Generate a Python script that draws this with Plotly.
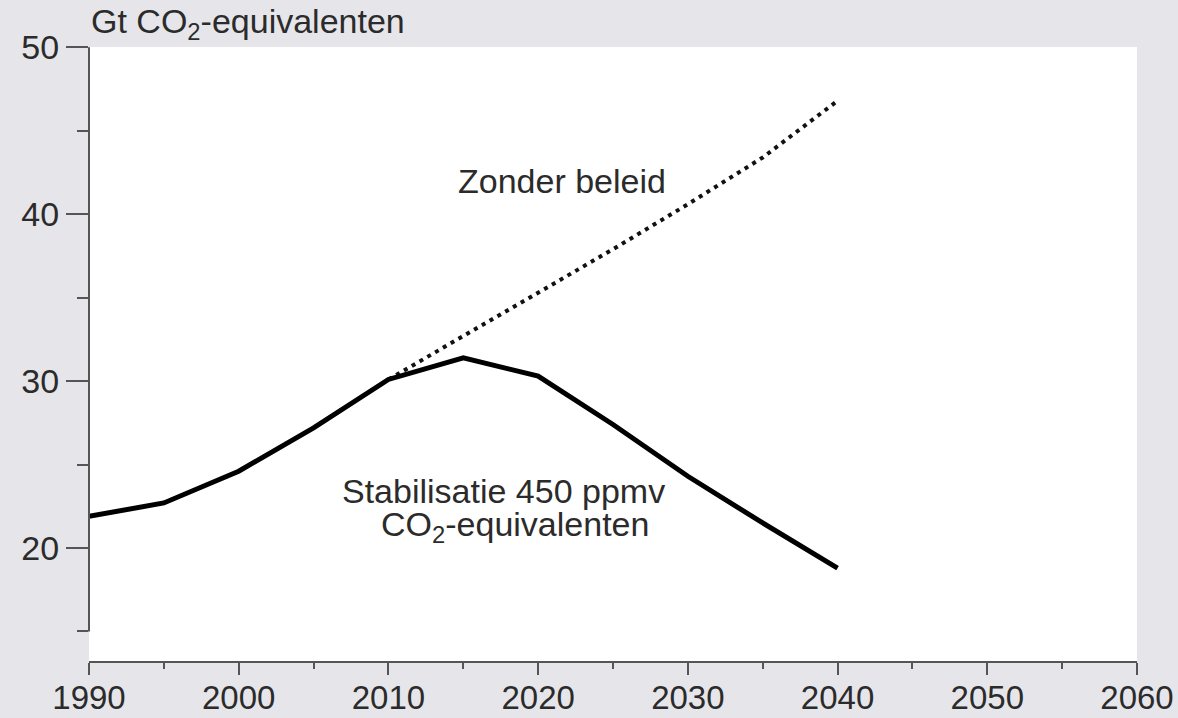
"""
Emissions chart: no-policy baseline vs. 450 ppmv stabilisation.
"""
import plotly.graph_objects as go

# data
years_stab = [1990, 1995, 2000, 2005, 2010, 2015, 2020, 2025, 2030, 2035, 2040]
stab_values = [21.9, 22.7, 24.6, 27.2, 30.1, 31.4, 30.3, 27.4, 24.3, 21.5, 18.8]

years_base = [2010, 2015, 2020, 2025, 2030, 2035, 2040]
base_values = [30.1, 32.7, 35.3, 37.9, 40.6, 43.4, 46.8]

x_ticks = [1990, 2000, 2010, 2020, 2030, 2040, 2050, 2060]
y_ticks = [20, 30, 40, 50]

FONT = 'Arial, Liberation Sans, sans-serif'
TEXT = '#2b2b2b'
AXIS = '#555555'
BG = '#e6e6ea'

fig = go.Figure()

# no-policy scenario (dotted)
fig.add_trace(go.Scatter(
    x=years_base, y=base_values, mode='lines',
    line=dict(color='#111111', width=4, dash='4px,5px'),
    showlegend=False, hoverinfo='x+y'
))

# stabilisation scenario (solid)
fig.add_trace(go.Scatter(
    x=years_stab, y=stab_values, mode='lines',
    line=dict(color='#000000', width=5),
    showlegend=False, hoverinfo='x+y'
))

# y axis line stops at 15, like the original
fig.add_shape(type='line', xref='paper', yref='y', x0=0, x1=0, y0=15, y1=50,
              line=dict(color=AXIS, width=2))

fig.add_annotation(x=0, xref='paper', y=1, yref='paper', xanchor='left', yanchor='bottom',
                   text='Gt CO<sub>2</sub>-equivalenten', showarrow=False, yshift=0,
                   font=dict(size=34, color=TEXT, family=FONT))
fig.add_annotation(x=2021.6, y=42.0, text='Zonder beleid', showarrow=False,
                   font=dict(size=34, color=TEXT, family=FONT))
fig.add_annotation(x=2017.7, y=23.4, text='Stabilisatie 450 ppmv', showarrow=False,
                   font=dict(size=34, color=TEXT, family=FONT))
fig.add_annotation(x=2018.45, y=21.3, text='CO<sub>2</sub>-equivalenten', showarrow=False,
                   font=dict(size=34, color=TEXT, family=FONT))

fig.update_layout(
    width=1178, height=718,
    margin=dict(l=89, r=41, t=47, b=57),
    paper_bgcolor=BG,
    plot_bgcolor='white',
    font=dict(family=FONT, color=TEXT, size=34),
    xaxis=dict(
        range=[1990, 2060], tickvals=x_ticks, showgrid=False, zeroline=False,
        showline=True, linecolor=AXIS, linewidth=2, automargin=False,
        ticks='outside', ticklen=12, tickwidth=2, tickcolor=AXIS,
        minor=dict(dtick=5, tick0=1990, ticks='outside', ticklen=6, tickwidth=2, tickcolor=AXIS),
        tickfont=dict(size=33, color=TEXT), ticklabelstandoff=-6,
    ),
    yaxis=dict(
        range=[13.23, 50.02], tickvals=y_ticks, showgrid=False, zeroline=False,
        showline=False, automargin=False,
        ticks='outside', ticklen=22, tickwidth=2, tickcolor=AXIS,
        minor=dict(tickvals=[15, 25, 35, 45], ticks='outside', ticklen=11, tickwidth=2, tickcolor=AXIS),
        tickfont=dict(size=34, color=TEXT),
    ),
)

fig.write_html("out.html", config={'displayModeBar': False},
               post_script="document.body.style.margin='0';")
